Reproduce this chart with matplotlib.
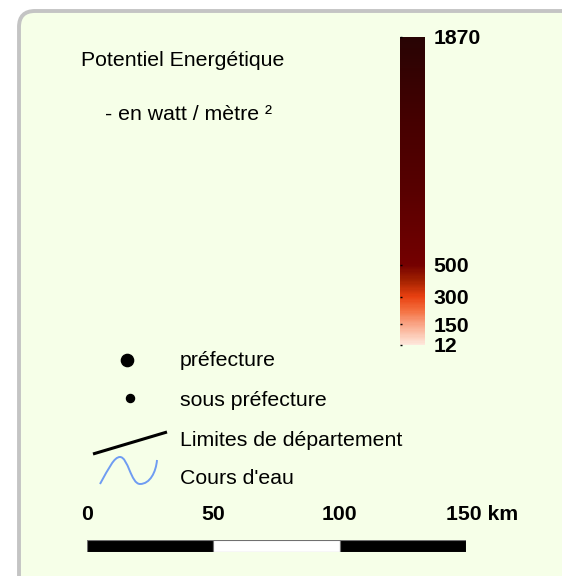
import matplotlib.pyplot as plt
import numpy as np
from matplotlib.colors import LinearSegmentedColormap, FuncNorm
from matplotlib.cm import ScalarMappable
from matplotlib.patches import FancyBboxPatch, PathPatch
from matplotlib.path import Path
from matplotlib.transforms import offset_copy

plt.rcParams['font.family'] = ['Liberation Sans', 'DejaVu Sans']

# colour scale (W/m2) and where each level sits on the bar
levels = [12, 150, 300, 500, 1870]
level_pos = [0.0, 0.068, 0.156, 0.26, 1.0]

# colour ramp of the bar
ramp_pos = [0.0, 0.07, 0.11, 0.156, 0.21, 0.26, 0.35, 0.51, 0.73, 1.0]
ramp_col = ['#fee8dc', '#f9a080', '#f47040', '#e84010', '#a02000',
            '#740000', '#690000', '#570000', '#450000', '#280404']

# legend entries
legend_labels = ["préfecture", "sous préfecture", "Limites de département", "Cours d'eau"]

# scale bar (km)
scale_edges = [0, 50, 100, 150]
scale_fill = ['black', 'white', 'black']

FS = 15.3

W, H = 562, 576
fig = plt.figure(figsize=(W / 100, H / 100), dpi=100)
fig.patch.set_facecolor('white')

ax = fig.add_axes([0, 0, 1, 1])
ax.set_xlim(0, W)
ax.set_ylim(H, 0)
ax.axis('off')

# background panel
box = FancyBboxPatch((19, 11), 620, 640, boxstyle='round,pad=0,rounding_size=16',
                     facecolor='#f6ffe8', edgecolor='#c4c4c4', linewidth=2.8, zorder=0)
ax.add_patch(box)

ax.text(81, 60, "Potentiel Energétique", fontsize=FS, va='center', ha='left')
ax.text(105, 115, "- en watt / mètre ²", fontsize=FS, va='center', ha='left')

# legend symbols
ax.plot([127], [360], 'o', color='black', markersize=8.8)
ax.plot([130], [398], 'o', color='black', markersize=5.8)
ax.plot([93, 167], [454, 432], color='black', linewidth=2.2, solid_capstyle='butt')
river = Path([(100, 484), (109, 468), (114, 457), (120, 457),
              (128, 457), (131, 484), (140, 484),
              (150, 484), (156, 472), (157, 460)],
             [Path.MOVETO] + [Path.CURVE4] * 9)
ax.add_patch(PathPatch(river, facecolor='none', edgecolor='#6f9cf2', linewidth=1.4))

for y, lab in zip([360, 400, 441, 478], legend_labels):
    ax.text(180, y, lab, fontsize=FS, va='center', ha='left')

# colour bar
cmap = LinearSegmentedColormap.from_list('pot', list(zip(ramp_pos, ramp_col)))
norm = FuncNorm((lambda v: np.interp(v, levels, level_pos),
                 lambda p: np.interp(p, level_pos, levels)), vmin=levels[0], vmax=levels[-1])
cax = fig.add_axes([400 / W, 1 - 345 / H, 25 / W, 308 / H])
cb = fig.colorbar(ScalarMappable(norm=norm, cmap=cmap), cax=cax)
cb.outline.set_visible(False)
cb.set_ticks(levels)
cb.set_ticklabels([str(v) for v in levels])
cax.yaxis.set_ticks_position('left')
cax.tick_params(axis='y', which='both', left=True, right=False, labelleft=False,
                labelright=True, direction='in', length=1.5, width=1, pad=6, labelsize=FS)
cax.minorticks_off()
for t in cax.get_yticklabels():
    t.set_fontweight('bold')

# scale bar
sax = fig.add_axes([87 / W, 1 - 552 / H, 379 / W, 12 / H])
sax.barh(0, np.diff(scale_edges), left=scale_edges[:-1], height=1, color=scale_fill,
         edgecolor='#707070', linewidth=0.8)
sax.set_xlim(scale_edges[0], scale_edges[-1])
sax.set_ylim(-0.5, 0.5)
sax.axis('off')
for v in scale_edges[:-1]:
    sax.text(v, 0.5, str(v), transform=offset_copy(sax.transData, fig=fig, y=25, units='dots'),
             fontsize=FS, fontweight='bold', ha='center', va='center')
sax.text(scale_edges[-1], 0.5, f"{scale_edges[-1]} km",
         transform=offset_copy(sax.transData, fig=fig, x=-20, y=25, units='dots'),
         fontsize=FS, fontweight='bold', ha='left', va='center')

fig.savefig('out.png', dpi=100, facecolor='white')
